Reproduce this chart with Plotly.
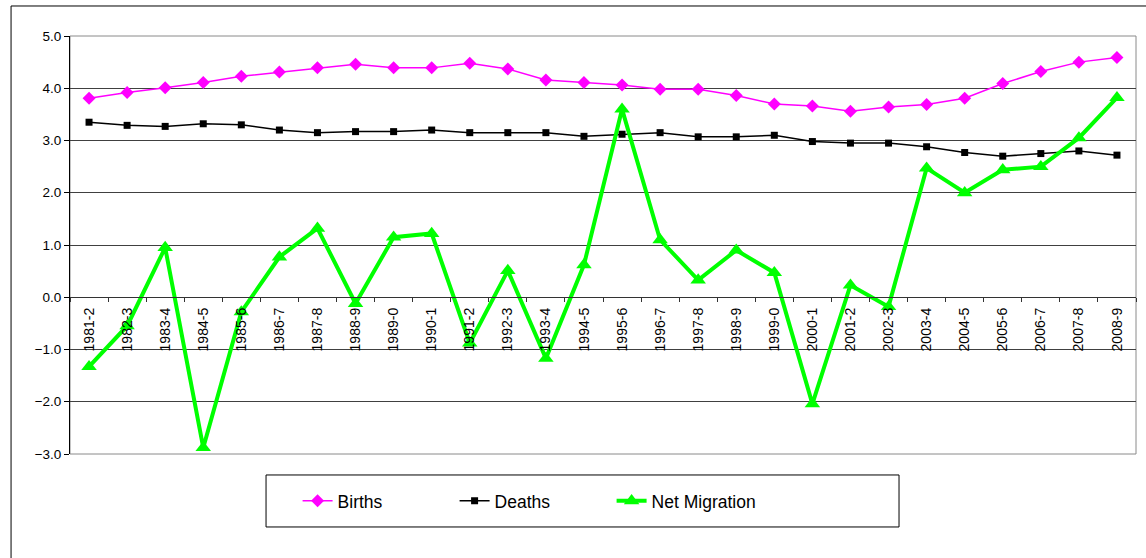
import plotly.graph_objects as go

# Financial-year labels along the category axis
years = [
    "1981-2", "1982-3", "1983-4", "1984-5", "1985-6", "1986-7", "1987-8",
    "1988-9", "1989-0", "1990-1", "1991-2", "1992-3", "1993-4", "1994-5",
    "1995-6", "1996-7", "1997-8", "1998-9", "1999-0", "2000-1", "2001-2",
    "2002-3", "2003-4", "2004-5", "2005-6", "2006-7", "2007-8", "2008-9",
]

births = [
    3.81, 3.92, 4.01, 4.11, 4.23, 4.31, 4.39, 4.46, 4.39, 4.39, 4.48, 4.37,
    4.16, 4.11, 4.06, 3.98, 3.98, 3.86, 3.70, 3.66, 3.56, 3.64, 3.69, 3.81,
    4.09, 4.32, 4.50, 4.59,
]

deaths = [
    3.35, 3.29, 3.27, 3.32, 3.30, 3.20, 3.15, 3.17, 3.17, 3.20, 3.15, 3.15,
    3.15, 3.08, 3.12, 3.15, 3.07, 3.07, 3.10, 2.98, 2.95, 2.95, 2.88, 2.77,
    2.70, 2.75, 2.80, 2.72,
]

net_migration = [
    -1.33, -0.55, 0.95, -2.88, -0.28, 0.77, 1.32, -0.12, 1.15, 1.22, -0.88,
    0.51, -1.17, 0.62, 3.60, 1.10, 0.33, 0.90, 0.47, -2.04, 0.23, -0.18,
    2.47, 2.00, 2.44, 2.50, 3.05, 3.82,
]

FONT = "Liberation Sans, Arial, sans-serif"

fig = go.Figure()

fig.add_trace(go.Scatter(
    x=years, y=births, name="Births", mode="lines+markers",
    line=dict(color="#FF00FF", width=1.5),
    marker=dict(symbol="diamond", size=10, color="#FF00FF"),
))
fig.add_trace(go.Scatter(
    x=years, y=deaths, name="Deaths", mode="lines+markers",
    line=dict(color="#000000", width=1.5),
    marker=dict(symbol="square", size=7, color="#000000"),
))
fig.add_trace(go.Scatter(
    x=years, y=net_migration, name="Net Migration", mode="lines+markers",
    line=dict(color="#00FF00", width=4),
    marker=dict(symbol="triangle-up", size=13.5, color="#00FF00"),
))

# Outer chart frame, plot-area frame and legend box
fig.add_shape(type="rect", xref="paper", yref="paper",
              x0=-0.0553, x1=1.02, y0=-0.30, y1=1.0718,
              line=dict(color="#000000", width=1), layer="below")
fig.add_shape(type="rect", xref="paper", yref="paper",
              x0=0, x1=1, y0=0, y1=1,
              line=dict(color="#8a8a8a", width=1), layer="below")
fig.add_shape(type="rect", xref="paper", yref="paper",
              x0=0.1839, x1=0.7777, y0=-0.0502, y1=-0.1746,
              line=dict(color="#000000", width=1))

fig.update_layout(
    width=1146, height=558,
    margin=dict(l=70, r=10, t=36, b=104),
    paper_bgcolor="white", plot_bgcolor="white",
    font=dict(family=FONT, color="#000000"),
    showlegend=True,
    legend=dict(
        orientation="h", x=0.2135, y=-0.1124, xanchor="left", yanchor="middle",
        font=dict(family=FONT, size=17.5, color="#000000"),
        bgcolor="rgba(0,0,0,0)", borderwidth=0,
        entrywidth=112, entrywidthmode="pixels",
    ),
    xaxis=dict(
        type="category", anchor="free", position=0.375,
        range=[-0.5, len(years) - 0.5], autorange=False,
        showline=True, linecolor="#333333", linewidth=1,
        ticks="outside", ticklen=4, tickcolor="#333333",
        tickson="boundaries", tickangle=-90, ticklabelstandoff=4,
        tickfont=dict(family=FONT, size=14, color="#000000"),
        showgrid=False, zeroline=False, automargin=False,
    ),
    yaxis=dict(
        range=[-3, 5], dtick=1, tickformat=".1f", domain=[0, 1],
        showline=True, linecolor="#000000", linewidth=1,
        ticks="outside", ticklen=5, tickcolor="#000000",
        showgrid=True, gridcolor="#404040", gridwidth=1,
        zeroline=False,
        tickfont=dict(family=FONT, size=13.5, color="#000000"),
        automargin=False,
    ),
)

fig.write_html("out.html")
